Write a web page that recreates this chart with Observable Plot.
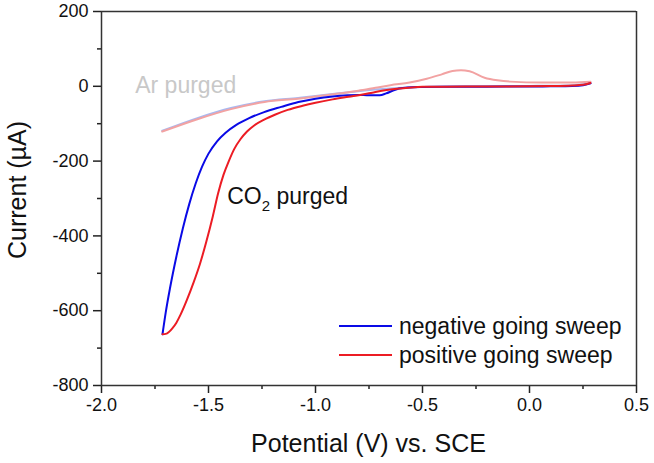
<!DOCTYPE html>
<html><head><meta charset="utf-8">
<script src="https://cdn.jsdelivr.net/npm/d3@7"></script>
<script src="https://cdn.jsdelivr.net/npm/@observablehq/plot@0.6"></script>
<style>
body{margin:0;background:#fff;}
#chart svg{display:block;font-family:"Liberation Sans",Arial,sans-serif;}
</style></head><body><div id="chart"></div>
<script>
// CO2 purged, negative going sweep (from +0.285 V to -1.715 V)
const negV = [0.285,0.25,0.2,0.1,0.0,-0.2,-0.4,-0.5,-0.57,-0.61,-0.64,-0.67,-0.7,-0.75,-0.8,-0.85,-0.92,-1.0,-1.08,-1.16,-1.24,-1.31,-1.37,-1.42,-1.46,-1.50,-1.53,-1.56,-1.59,-1.62,-1.65,-1.68,-1.70,-1.715];
const negI = [8,3,1,0,-0.5,-1,-1.5,-2,-3,-6,-12,-19,-24,-24,-23,-24,-27,-33,-42,-55,-69,-85,-103,-124,-147,-180,-215,-260,-315,-380,-455,-540,-605,-663];
// CO2 purged, positive going sweep (from -1.715 V back to +0.285 V)
const posV = [-1.715,-1.70,-1.685,-1.67,-1.65,-1.63,-1.60,-1.57,-1.54,-1.51,-1.48,-1.455,-1.43,-1.405,-1.38,-1.35,-1.32,-1.285,-1.24,-1.19,-1.13,-1.06,-1.0,-0.92,-0.845,-0.78,-0.735,-0.69,-0.64,-0.59,-0.55,-0.5,-0.4,-0.2,0.0,0.1,0.2,0.25,0.285];
const posI = [-663,-662,-657,-648,-632,-610,-570,-525,-475,-415,-348,-286,-237,-200,-168,-141,-121,-104,-89,-76,-63,-52,-44,-35,-28,-22,-17,-12,-8,-5,-3,-1.5,-1,-0.5,0,0.5,2,4,9];
// Ar purged, negative going sweep
const arNegV = [0.285,0.2,0.0,-0.3,-0.5,-0.65,-0.8,-0.9,-1.0,-1.081,-1.238,-1.395,-1.552,-1.716];
const arNegI = [8,3,1,0,-2,-6,-13,-19,-26,-31,-40,-58,-85,-119];
// Ar purged, positive going sweep
const arPosV = [-1.716,-1.552,-1.395,-1.238,-1.081,-0.9,-0.8,-0.72,-0.65,-0.56,-0.48,-0.41,-0.36,-0.32,-0.28,-0.21,-0.15,-0.09,0.06,0.2,0.285];
const arPosI = [-121,-88,-61,-42,-33,-20,-12,-4,3,10,20,32,41,43,40,23,16,12.5,10,10,12];

const xTicks = [-2.0,-1.5,-1.0,-0.5,0.0,0.5];
const xMinor = [-1.75,-1.25,-0.75,-0.25,0.25];
const yTicks = [200,0,-200,-400,-600,-800];
const yMinor = [100,-100,-300,-500,-700];
const seriesNames = ["negative going sweep","positive going sweep"];
const seriesColors = ["#0a0ae6","#ec1c24"];
const arColors = ["#a9b8f0","#f2a2a2"];
const xTitle = "Potential (V) vs. SCE";
const yTitle = "Current (\u00b5A)";
const arLabel = {v:-1.84, i:-20, text:"Ar purged"};
const co2Label = {v:-1.41, i:-315};

const toRows = (V, I) => V.map((v, k) => ({v, i: I[k]})).sort((a, b) => a.v - b.v);

const plot = Plot.plot({
  width: 654, height: 463,
  marginLeft: 101, marginRight: 18, marginTop: 11, marginBottom: 78,
  x: {domain: [-2, 0.5]},
  y: {domain: [-800, 200]},
  style: {fontFamily: '"Liberation Sans", Arial, sans-serif', fontSize: "18px", color: "#222", background: "#fff"},
  marks: [
    Plot.axisX(xMinor, {tickSize: 4, text: null, strokeWidth: 1.5, label: null}),
    Plot.axisX(xTicks, {tickSize: 8, strokeWidth: 1.5, tickPadding: 5, tickFormat: d => d.toFixed(1), label: null, fill: "#111"}),
    Plot.axisY(yMinor, {tickSize: 4, text: null, strokeWidth: 1.5, label: null}),
    Plot.axisY(yTicks, {tickSize: 8, strokeWidth: 1.5, tickPadding: 5, tickFormat: d => String(d), label: null, fill: "#111"}),
    Plot.ruleY([-800], {stroke: "#333", strokeWidth: 1.5}),
    Plot.ruleY([200], {stroke: "#333", strokeWidth: 1.5}),
    Plot.ruleX([-2], {stroke: "#333", strokeWidth: 1.5}),
    Plot.ruleX([0.5], {stroke: "#333", strokeWidth: 1.5}),
    Plot.line(toRows(arNegV, arNegI), {x: "v", y: "i", stroke: arColors[0], strokeWidth: 2, curve: "monotone-x"}),
    Plot.line(toRows(arPosV, arPosI), {x: "v", y: "i", stroke: arColors[1], strokeWidth: 2, curve: "monotone-x"}),
    Plot.line(toRows(negV, negI), {x: "v", y: "i", stroke: seriesColors[0], strokeWidth: 2, curve: "monotone-x"}),
    Plot.line(toRows(posV, posI), {x: "v", y: "i", stroke: seriesColors[1], strokeWidth: 2, curve: "monotone-x"})
  ]
});

const svg = d3.select(plot);
const sx = plot.scale("x"), sy = plot.scale("y");
const font = '"Liberation Sans", Arial, sans-serif';
// axis titles
svg.append("text").attr("x", (sx.apply(-2) + sx.apply(0.5)) / 2).attr("y", 452)
  .attr("text-anchor", "middle").attr("font-size", 25).attr("font-family", font).attr("fill", "#111").text(xTitle);
svg.append("text").attr("transform", `translate(26,${(sy.apply(200) + sy.apply(-800)) / 2 - 8}) rotate(-90)`)
  .attr("text-anchor", "middle").attr("font-size", 25).attr("font-family", font).attr("fill", "#111").text(yTitle);
// annotations
svg.append("text").attr("x", sx.apply(arLabel.v)).attr("y", sy.apply(arLabel.i)).attr("text-anchor", "start")
  .attr("font-size", 23).attr("font-family", font).attr("fill", "#c8c8c8").text(arLabel.text);
const co2 = svg.append("text").attr("x", sx.apply(co2Label.v)).attr("y", sy.apply(co2Label.i)).attr("text-anchor", "start")
  .attr("font-size", 23).attr("font-family", font).attr("fill", "#111");
co2.append("tspan").text("CO");
co2.append("tspan").attr("font-size", 15).attr("dy", 7).text("2");
co2.append("tspan").attr("dy", -7).text(" purged");
// legend
seriesNames.forEach((name, k) => {
  const y = 326 + k * 29;
  svg.append("line").attr("x1", 339).attr("x2", 392).attr("y1", y).attr("y2", y)
    .attr("stroke", seriesColors[k]).attr("stroke-width", 2);
  svg.append("text").attr("x", 399).attr("y", y + 8).attr("text-anchor", "start").attr("font-size", 23)
    .attr("font-family", font).attr("fill", "#111").text(name);
});
document.getElementById("chart").append(plot);
</script></body></html>
